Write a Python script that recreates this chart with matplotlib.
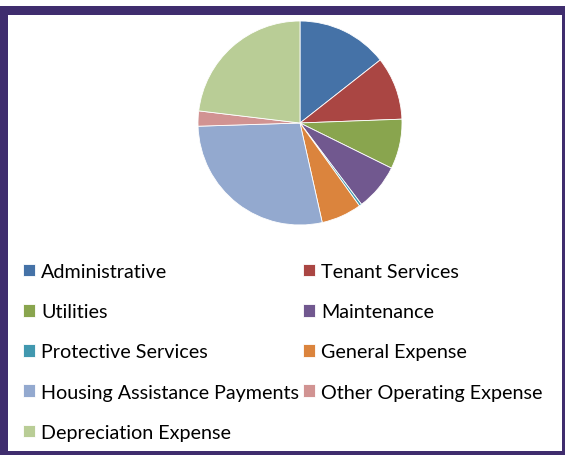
import matplotlib
matplotlib.use("Agg")
from matplotlib import pyplot as plt
from matplotlib.patches import Rectangle

labels = ["Administrative", "Tenant Services", "Utilities", "Maintenance",
          "Protective Services", "General Expense", "Housing Assistance Payments",
          "Other Operating Expense", "Depreciation Expense"]
shares = [14.4, 10.0, 7.9, 7.4, 0.4, 6.4, 28.0, 2.4, 23.1]
colors = ["#4572A7", "#AA4643", "#89A54E", "#71588F", "#4198AF",
          "#DB843D", "#93A9CF", "#D19392", "#B9CD96"]

W, H = 565, 456
fig = plt.figure(figsize=(W / 100, H / 100), dpi=100)
fig.patch.set_facecolor("white")

# purple frame
purple = "#3F2D6E"
fig.patches.append(Rectangle((0, 0), 565 / W, (H - 7) / H, transform=fig.transFigure,
                             facecolor=purple, edgecolor="none", zorder=-2))
fig.patches.append(Rectangle((8 / W, 4 / H), 554 / W, (452 - 16) / H, transform=fig.transFigure,
                             facecolor="white", edgecolor="none", zorder=-1))

# pie
cx, cy, r = 300, 124, 102
ax = fig.add_axes([(cx - r) / W, (H - cy - r) / H, 2 * r / W, 2 * r / H])
ax.set_zorder(2)
wedges, _ = ax.pie(shares, colors=colors, startangle=90, counterclock=False, radius=1,
                   wedgeprops=dict(edgecolor="white", linewidth=0.6))
ax.set_xlim(-1, 1)
ax.set_ylim(-1, 1)
ax.set_aspect("equal")
ax.axis("off")

order = [0, 2, 4, 6, 8, 1, 3, 5, 7]
fs = 14.2
fsp = fs * 100 / 72
leg = fig.legend([wedges[i] for i in order], [labels[i] for i in order], ncol=2,
                 loc="upper left", bbox_to_anchor=(23 / W, 1 - 264 / H),
                 frameon=False, borderpad=0, borderaxespad=0,
                 prop={"family": "Lato", "size": fs},
                 handlelength=12 / fsp, handleheight=12 / fsp,
                 handletextpad=6 / fsp, columnspacing=4 / fsp, labelspacing=23.2 / fsp)
leg.set_zorder(3)

fig.savefig("out.png", dpi=100)
